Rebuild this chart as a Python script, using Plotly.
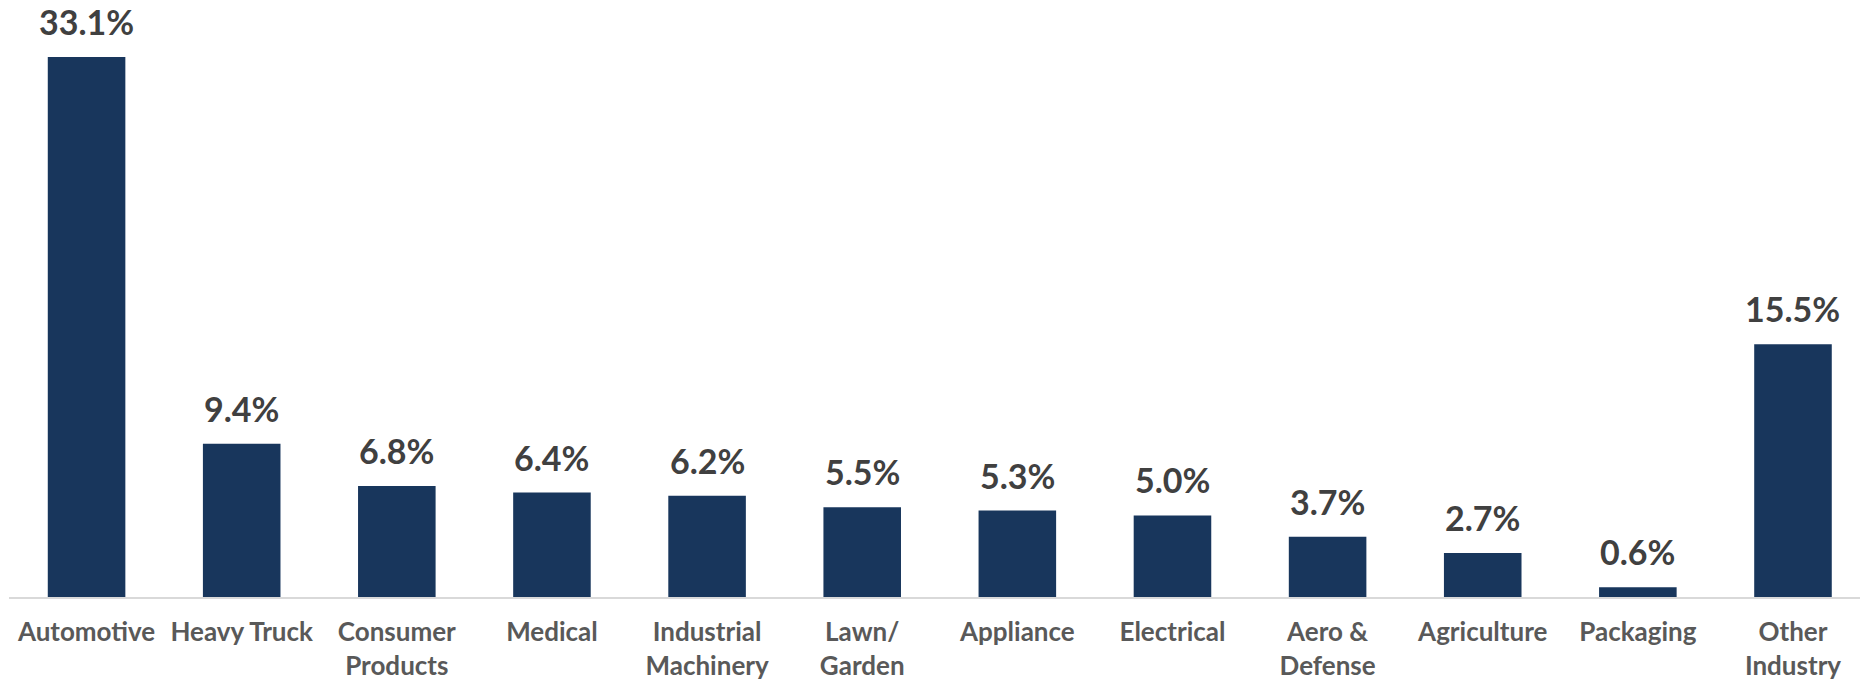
import plotly.graph_objects as go

categories = ["Automotive", "Heavy Truck", "Consumer<br>Products", "Medical",
              "Industrial<br>Machinery", "Lawn/<br>Garden", "Appliance", "Electrical",
              "Aero &<br>Defense", "Agriculture", "Packaging", "Other<br>Industry"]
shares = [33.1, 9.4, 6.8, 6.4, 6.2, 5.5, 5.3, 5.0, 3.7, 2.7, 0.6, 15.5]
labels = [f"{v:.1f}%" for v in shares]

fig = go.Figure()
fig.add_trace(go.Bar(
    x=list(range(len(categories))), y=shares,
    marker=dict(color="#18365C", line=dict(width=0)),
    width=0.5, hoverinfo="skip"))

for i, (v, t) in enumerate(zip(shares, labels)):
    fig.add_annotation(x=i, y=v, text=t, showarrow=False, yanchor="bottom",
                       yshift=13, font=dict(family="Lato", size=34, color="#404040",
                                            weight="bold"))

fig.update_layout(
    width=1860, height=683,
    margin=dict(l=9, r=0, t=0, b=86),
    plot_bgcolor="white", paper_bgcolor="white",
    showlegend=False,
    xaxis=dict(tickmode="array", tickvals=list(range(len(categories))),
               ticktext=categories, range=[-0.5, 11.432],
               showline=True, linecolor="#D9D9D9", linewidth=2,
               showgrid=False, zeroline=False, ticks="", automargin=False,
               tickfont=dict(family="Lato", size=26, color="#595959", weight="bold"),
               ticklabelstandoff=11),
    yaxis=dict(range=[0, 36.6], visible=False, showgrid=False, zeroline=False,
               automargin=False),
)

fig.write_html("out.html")
